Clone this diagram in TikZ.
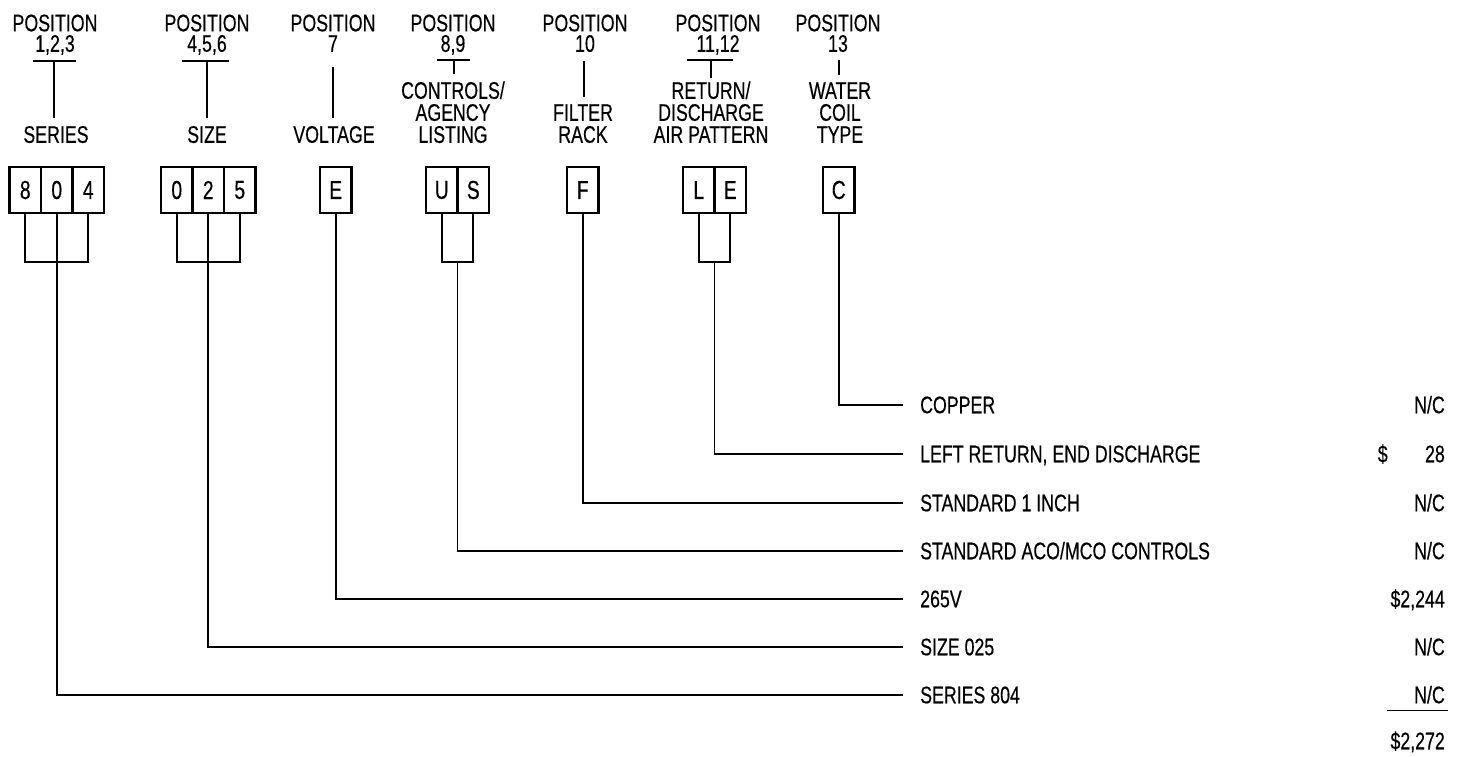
\documentclass[tikz,border=0pt]{standalone}
\usepackage{fontspec}
\setmainfont[FakeStretch=0.74,FakeBold=0.4]{Liberation Sans}
\usetikzlibrary{calc}
\begin{document}
\begin{tikzpicture}[x=1pt,y=-1pt,
  ln/.style={line width=1.8pt},
  cell/.style={draw, line width=2.2pt, outer sep=0pt, minimum width=31.5pt, minimum height=46pt, inner sep=0pt, anchor=north west, font=\fontsize{26}{26}\selectfont},
  head/.style={anchor=south, inner sep=0pt, text depth=0pt, align=center, font=\fontsize{24}{20.5}\selectfont},
  lab/.style={anchor=south, inner sep=0pt, text depth=0pt, align=center, font=\fontsize{24}{22}\selectfont},
  item/.style={anchor=west, inner sep=0pt, text height=16.5pt, text depth=0pt, font=\fontsize{24}{24}\selectfont},
  price/.style={anchor=east, inner sep=0pt, text height=16.5pt, text depth=0pt, font=\fontsize{24}{24}\selectfont}]
\useasboundingbox (0,0) rectangle (1463,756);

% headings
\node[head] (h1) at (55,52) {POSITION\\1,2,3};
\node[head] (h2) at (207,52) {POSITION\\4,5,6};
\node[head] (h3) at (333,52) {POSITION\\7};
\node[head] (h4) at (453,52) {POSITION\\8,9};
\node[head] (h5) at (585,52) {POSITION\\10};
\node[head] (h6) at (718,52) {POSITION\\11,12};
\node[head] (h7) at (838,52) {POSITION\\13};

% category labels
\node[lab] (l1) at (56,143) {SERIES};
\node[lab] (l2) at (207,143) {SIZE};
\node[lab] (l3) at (334,143) {VOLTAGE};
\node[lab] (l4) at (453,143) {CONTROLS/\\AGENCY\\LISTING};
\node[lab] (l5) at (583,143) {FILTER\\RACK};
\node[lab] (l6) at (711,143) {RETURN/\\DISCHARGE\\AIR PATTERN};
\node[lab] (l7) at (840,143) {WATER\\COIL\\TYPE};

% T markers between headings and labels
\draw[ln] (33,61) -- (76,61);
\draw[ln] (54,61) -- (54,118);
\draw[ln] (182,61) -- (229,61);
\draw[ln] (207,61) -- (207,118);
\draw[ln] (333,67) -- (333,118);
\draw[ln] (437,60) -- (470,60);
\draw[ln] (454,60) -- (454,74);
\draw[ln] (584,61) -- (584,97);
\draw[ln] (687,60) -- (733,60);
\draw[ln] (711,60) -- (711,78);
\draw[ln] (839,60) -- (839,75);

% code boxes
\node[cell] (c11) at (9.5,167) {8};
\node[cell] (c12) at (c11.north east) {0};
\node[cell] (c13) at (c12.north east) {4};
\node[cell] (c21) at (161,167) {0};
\node[cell] (c22) at (c21.north east) {2};
\node[cell] (c23) at (c22.north east) {5};
\node[cell] (c3) at (320,167) {E};
\node[cell] (c41) at (426,167) {U};
\node[cell] (c42) at (c41.north east) {S};
\node[cell] (c5) at (567,167) {F};
\node[cell] (c61) at (683,167) {L};
\node[cell] (c62) at (c61.north east) {E};
\node[cell] (c7) at (823,167) {C};

% option rows
\node[item] (r1) at (920,405) {COPPER};
\node[item] (r2) at (920,454) {LEFT RETURN, END DISCHARGE};
\node[item] (r3) at (920,503) {STANDARD 1 INCH};
\node[item] (r4) at (920,551) {STANDARD ACO/MCO CONTROLS};
\node[item] (r5) at (920,599) {265V};
\node[item] (r6) at (920,647) {SIZE 025};
\node[item] (r7) at (920,695) {SERIES 804};

\node[price] (p1) at (1445,405) {N/C};
\node[price] (p2) at (1445,454) {\makebox[67pt]{\$\hfill 28}};
\node[price] (p3) at (1445,503) {N/C};
\node[price] (p4) at (1445,551) {N/C};
\node[price] (p5) at (1445,599) {\$2,244};
\node[price] (p6) at (1445,647) {N/C};
\node[price] (p7) at (1445,695) {N/C};
\node[price] (pt) at (1445,741) {\$2,272};
\draw[ln] ($(p7.south east)+(3,7)$) -- ++(-61,0);

% line ends
\coordinate (e1) at ($(r1.west)+(-17,0)$);
\coordinate (e2) at ($(r2.west)+(-17,0)$);
\coordinate (e3) at ($(r3.west)+(-17,0)$);
\coordinate (e4) at ($(r4.west)+(-17,0)$);
\coordinate (e5) at ($(r5.west)+(-17,0)$);
\coordinate (e6) at ($(r6.west)+(-17,0)$);
\coordinate (e7) at ($(r7.west)+(-17,0)$);

% brackets and connectors
\draw[ln] (c11.south) -- ++(0,49) -| (c13.south);
\draw[ln] (c12.south) |- (e7);
\draw[ln] (c21.south) -- ++(0,49) -| (c23.south);
\draw[ln] (c22.south) |- (e6);
\draw[ln] (c3.south) |- (e5);
\draw[ln] (c41.south) -- ++(0,49) -| (c42.south);
\coordinate (b4) at ($(c41.south)!.5!(c42.south)+(0,49)$);
\draw[ln] (b4) |- (e4);
\draw[ln] (c5.south) |- (e3);
\draw[ln] (c61.south) -- ++(0,49) -| (c62.south);
\coordinate (b6) at ($(c61.south)!.5!(c62.south)+(0,49)$);
\draw[ln] (b6) |- (e2);
\draw[ln] (c7.south) |- (e1);
\end{tikzpicture}
\end{document}
